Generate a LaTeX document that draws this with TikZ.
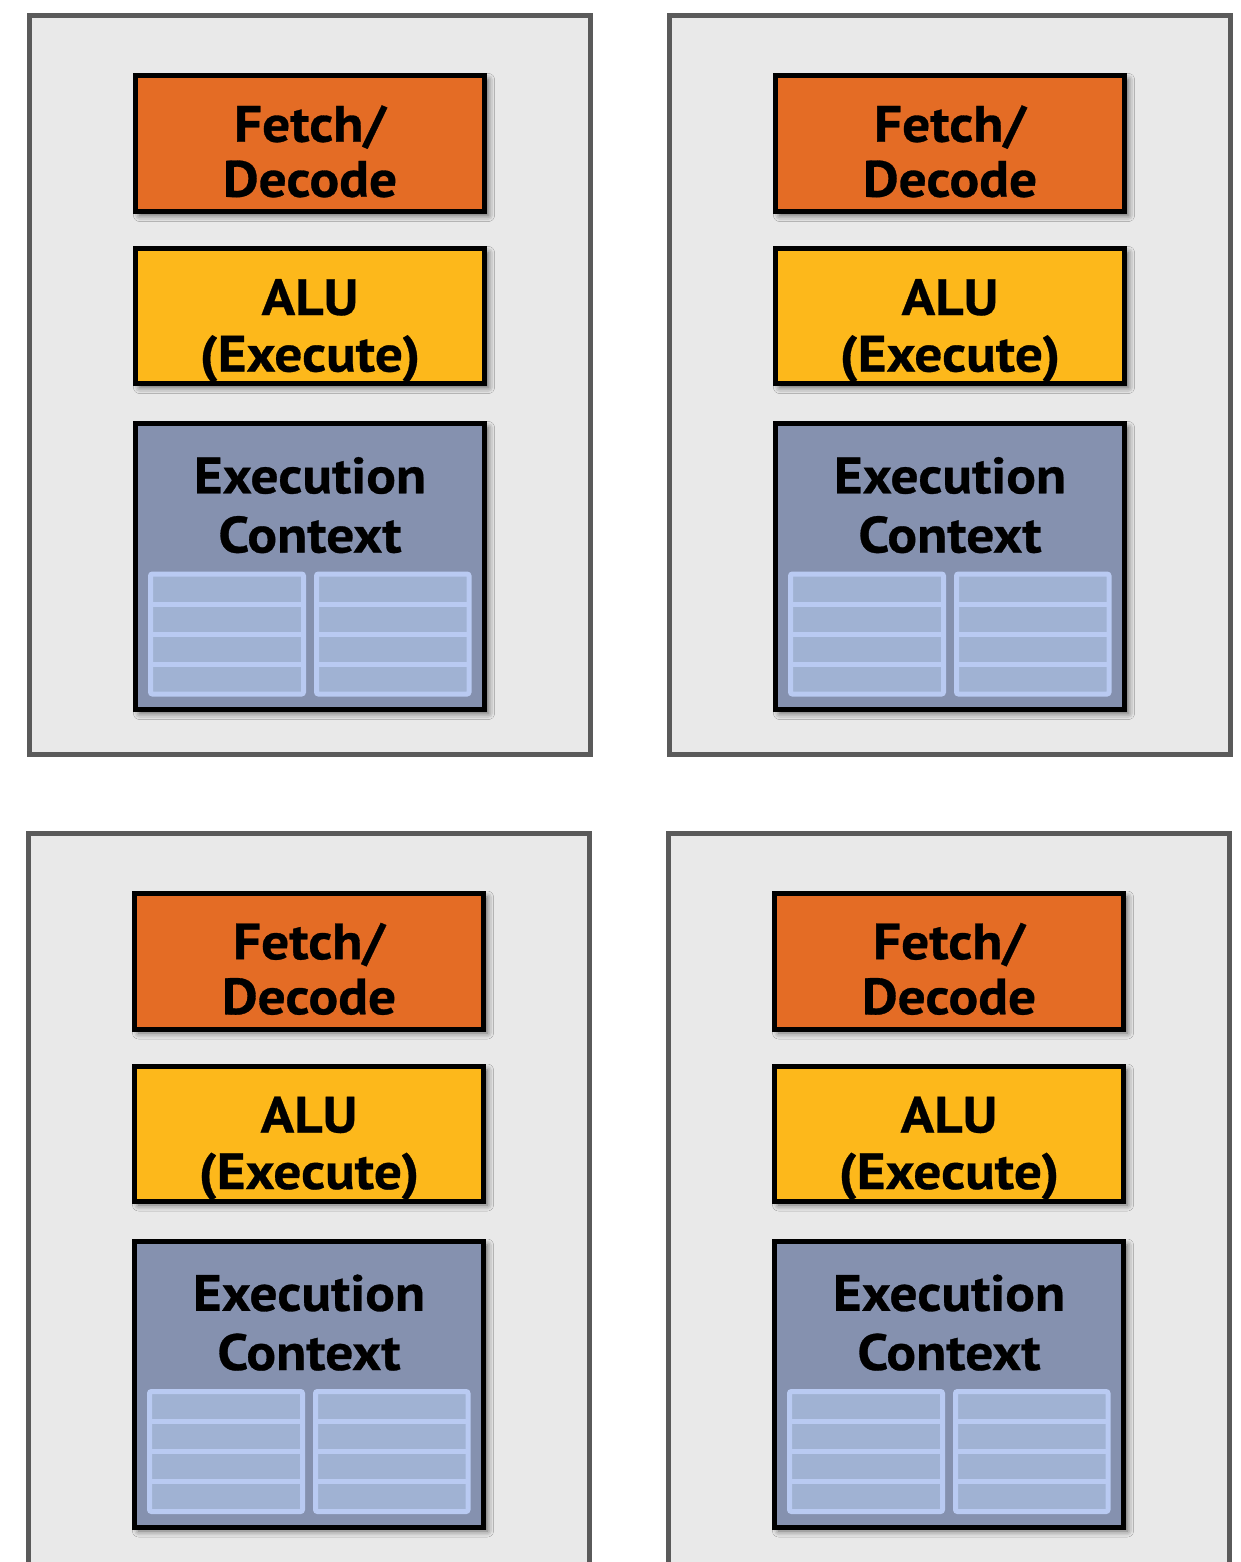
\documentclass[tikz,border=0pt]{standalone}
\usepackage{fontspec}
\setmainfont{PT Sans}[FakeStretch=1.085, BoldFeatures={FakeBold=0.6}]
\usetikzlibrary{shadows.blur}
\definecolor{corefill}{HTML}{E9E9E9}
\definecolor{coreline}{HTML}{5A5A5A}
\definecolor{fdfill}{HTML}{E46C25}
\definecolor{alufill}{HTML}{FDB81B}
\definecolor{ecfill}{HTML}{8591AF}
\definecolor{regfill}{HTML}{A0B2D3}
\definecolor{regline}{HTML}{B9CAF2}
\tikzset{
  corebox/.style={draw=coreline, fill=corefill, line width=5pt, inner sep=0pt, outer sep=0pt,
    minimum width=560.5pt, minimum height=739pt},
  unitbox/.style={draw=black, line width=5pt, inner sep=0pt, outer sep=0pt, minimum width=349pt,
    blur shadow={shadow xshift=4pt, shadow yshift=-4pt, shadow blur radius=6pt, shadow opacity=60}},
  regbox/.style={draw=regline, fill=regfill, line width=5pt, rounded corners=2pt, inner sep=0pt,
    outer sep=0pt, minimum height=120pt},
  regrow/.style={draw=regline, line width=5pt},
  lbl/.style={anchor=base, inner sep=0pt, font=\fontsize{51}{55}\selectfont\bfseries}
}
\begin{document}
\begin{tikzpicture}[x=1pt,y=-1pt]
\useasboundingbox (0,0) rectangle (1240,1562);
\foreach \i/\dx/\dy in {1/0/0, 2/640/0, 3/-1/817.5, 4/639/817.5}{
  \begin{scope}[shift={(\dx,\dy)}]
    \node[corebox] (core\i) at (309.75,385) {};
    \node[unitbox, fill=fdfill, minimum height=136pt] (fd\i) at (310,143.5) {};
    \node[unitbox, fill=alufill, minimum height=135pt] (alu\i) at (310,316) {};
    \node[unitbox, fill=ecfill, minimum height=286pt] (ec\i) at (310,566.5) {};
    \node[lbl] (fdt\i) at (310,141.7) {Fetch/};
    \node[lbl] (fdb\i) at (310,196.7) {Decode};
    \node[lbl] (alut\i) at (310,315) {ALU};
    \node[lbl] (alub\i) at (310,371.5) {(Execute)};
    \node[lbl] (ect\i) at (310,493.3) {Execution};
    \node[lbl] (ecb\i) at (310,552.5) {Context};
    \node[regbox, minimum width=153pt] (rl\i) at (227,634) {};
    \node[regbox, minimum width=152.5pt] (rr\i) at (392.75,634) {};
    \foreach \k in {30,60,90}{
      \draw[regrow] (rl\i.north west) ++(0,\k) -- ++(153,0);
      \draw[regrow] (rr\i.north west) ++(0,\k) -- ++(152.5,0);
    }
  \end{scope}
}
\end{tikzpicture}
\end{document}
